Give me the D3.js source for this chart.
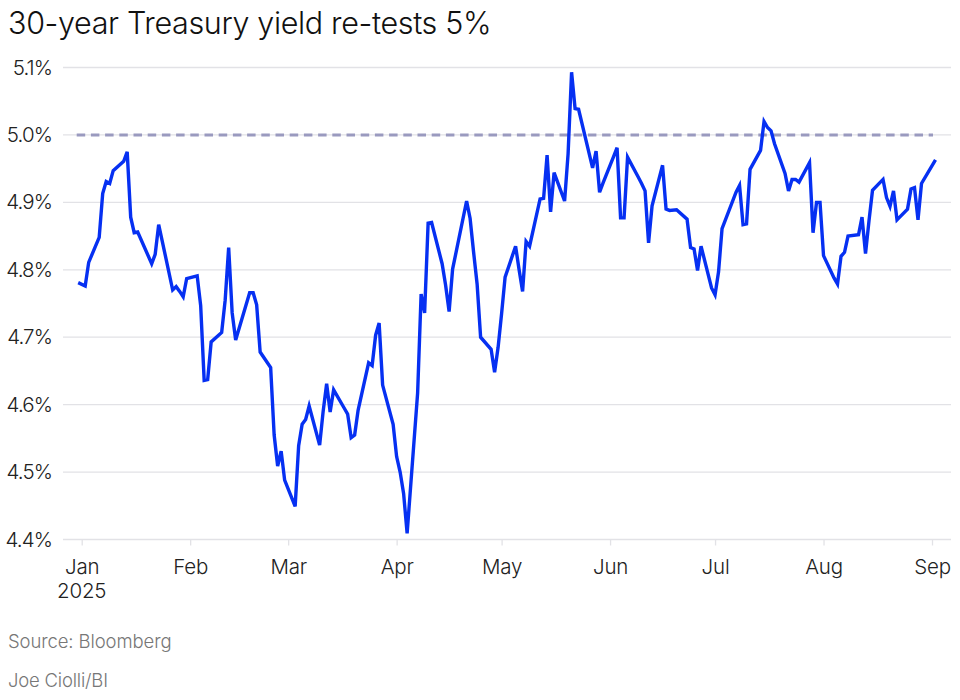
<!DOCTYPE html>
<html>
<head>
<meta charset="utf-8">
<script src="https://cdn.jsdelivr.net/npm/d3@7"></script>
<style>
  html, body { margin: 0; padding: 0; background: #fff; }
  text { font-family: Inter, "Noto Sans", sans-serif; font-weight: 300; }
</style>
</head>
<body>
<div id="chart"></div>
<script>
// Values
var dates = [
  "2024-12-31","2025-01-02","2025-01-03","2025-01-06","2025-01-07","2025-01-08","2025-01-09","2025-01-10",
  "2025-01-13","2025-01-14","2025-01-15","2025-01-16","2025-01-17","2025-01-21","2025-01-22","2025-01-23","2025-01-24",
  "2025-01-27","2025-01-28","2025-01-29","2025-01-30","2025-01-31",
  "2025-02-03","2025-02-04","2025-02-05","2025-02-06","2025-02-07",
  "2025-02-10","2025-02-11","2025-02-12","2025-02-13","2025-02-14",
  "2025-02-18","2025-02-19","2025-02-20","2025-02-21",
  "2025-02-24","2025-02-25","2025-02-26","2025-02-27","2025-02-28",
  "2025-03-03","2025-03-04","2025-03-05","2025-03-06","2025-03-07",
  "2025-03-10","2025-03-11","2025-03-12","2025-03-13","2025-03-14",
  "2025-03-17","2025-03-18","2025-03-19","2025-03-20","2025-03-21",
  "2025-03-24","2025-03-25","2025-03-26","2025-03-27","2025-03-28",
  "2025-03-31","2025-04-01","2025-04-02","2025-04-03","2025-04-04",
  "2025-04-07","2025-04-08","2025-04-09","2025-04-10","2025-04-11",
  "2025-04-14","2025-04-15","2025-04-16","2025-04-17",
  "2025-04-21","2025-04-22","2025-04-23","2025-04-24","2025-04-25",
  "2025-04-28","2025-04-29","2025-04-30","2025-05-01","2025-05-02",
  "2025-05-05","2025-05-06","2025-05-07","2025-05-08","2025-05-09",
  "2025-05-12","2025-05-13","2025-05-14","2025-05-15","2025-05-16",
  "2025-05-19","2025-05-20","2025-05-21","2025-05-22","2025-05-23",
  "2025-05-27","2025-05-28","2025-05-29","2025-05-30",
  "2025-06-02","2025-06-03","2025-06-04","2025-06-05","2025-06-06",
  "2025-06-09","2025-06-10","2025-06-11","2025-06-12","2025-06-13",
  "2025-06-16","2025-06-17","2025-06-18","2025-06-20",
  "2025-06-23","2025-06-24","2025-06-25","2025-06-26","2025-06-27",
  "2025-06-30","2025-07-01","2025-07-02","2025-07-03",
  "2025-07-07","2025-07-08","2025-07-09","2025-07-10","2025-07-11",
  "2025-07-14","2025-07-15","2025-07-16","2025-07-17","2025-07-18",
  "2025-07-21","2025-07-22","2025-07-23","2025-07-24","2025-07-25",
  "2025-07-28","2025-07-29","2025-07-30","2025-07-31","2025-08-01",
  "2025-08-04","2025-08-05","2025-08-06","2025-08-07","2025-08-08",
  "2025-08-11","2025-08-12","2025-08-13","2025-08-14","2025-08-15",
  "2025-08-18","2025-08-19","2025-08-20","2025-08-21","2025-08-22",
  "2025-08-25","2025-08-26","2025-08-27","2025-08-28","2025-08-29",
  "2025-09-02"
];

var yields = [
  4.781,4.776,4.811,4.848,4.913,4.931,4.928,4.947,
  4.961,4.975,4.878,4.855,4.856,4.809,4.823,4.867,4.843,
  4.770,4.775,4.768,4.760,4.787,
  4.791,4.747,4.636,4.637,4.693,
  4.707,4.755,4.833,4.736,4.696,
  4.766,4.766,4.748,4.678,
  4.655,4.555,4.509,4.531,4.488,
  4.449,4.539,4.571,4.578,4.598,
  4.540,4.590,4.631,4.589,4.622,
  4.595,4.586,4.551,4.555,4.592,
  4.662,4.658,4.703,4.721,4.629,
  4.571,4.523,4.500,4.468,4.409,
  4.617,4.764,4.736,4.869,4.870,
  4.809,4.777,4.738,4.801,
  4.902,4.876,4.826,4.779,4.700,
  4.682,4.648,4.685,4.735,4.789,
  4.835,4.800,4.768,4.842,4.835,
  4.905,4.906,4.970,4.886,4.944,
  4.902,4.972,5.093,5.039,5.038,
  4.951,4.976,4.915,4.929,
  4.968,4.981,4.877,4.877,4.967,
  4.938,4.928,4.917,4.840,4.895,
  4.955,4.890,4.888,4.889,
  4.875,4.833,4.831,4.799,4.835,
  4.773,4.763,4.797,4.861,
  4.915,4.925,4.867,4.868,4.949,
  4.977,5.020,5.011,5.006,4.987,
  4.943,4.917,4.934,4.934,4.930,
  4.959,4.855,4.900,4.900,4.821,
  4.788,4.779,4.820,4.826,4.850,
  4.852,4.878,4.824,4.873,4.918,
  4.934,4.907,4.894,4.917,4.874,
  4.890,4.920,4.922,4.874,4.928,
  4.963
];

var yTicks = [4.4, 4.5, 4.6, 4.7, 4.8, 4.9, 5.0, 5.1];
var xTicks = ["2025-01-01","2025-02-01","2025-03-01","2025-04-01","2025-05-01","2025-06-01","2025-07-01","2025-08-01","2025-09-01"];
var monthLabels = ["Jan","Feb","Mar","Apr","May","Jun","Jul","Aug","Sep"];
var referenceLevel = [5.0];

var svgWidth = 960;
var svgHeight = 700;

var parseDate = d3.utcParse("%Y-%m-%d");

var svg = d3.select("#chart")
  .append("svg")
  .attr("width", svgWidth)
  .attr("height", svgHeight)
  .style("display", "block");

var gridLeft = 63, gridRight = 951;

var xScale = d3.scaleUtc()
  .domain([parseDate(xTicks[0]), parseDate(xTicks[xTicks.length - 1])])
  .range([81.7, 932]);

var yScale = d3.scaleLinear()
  .domain([4.4, 5.1])
  .range([539.5, 67.5]);

// Title
svg.append("text")
  .attr("x", 8)
  .attr("y", 34)
  .attr("font-size", 30.5)
  .attr("letter-spacing", -0.35)
  .attr("fill", "#111")
  .text("30-year Treasury yield re-tests 5%");

// Y axis and gridlines
var yAxis = d3.axisLeft(yScale)
  .tickValues(yTicks)
  .tickFormat(d => d.toFixed(1) + "%")
  .tickSize(0)
  .tickPadding(11);

svg.append("g")
  .attr("transform", `translate(${gridLeft}, 0)`)
  .call(yAxis)
  .call(g => g.select(".domain").remove())
  .call(g => g.selectAll("text")
    .attr("font-size", 20.5)
    .attr("letter-spacing", -0.9)
    .attr("fill", "#222")
    .style("font-family", "Inter, sans-serif"));

svg.append("g")
  .selectAll("line")
  .data(yTicks)
  .enter()
  .append("line")
  .attr("x1", gridLeft)
  .attr("x2", gridRight)
  .attr("y1", d => yScale(d))
  .attr("y2", d => yScale(d))
  .attr("stroke", "#e2e2e6")
  .attr("stroke-width", 1.3);

// X axis
var xAxis = d3.axisBottom(xScale)
  .tickValues(xTicks.map(parseDate))
  .tickFormat((d, i) => monthLabels[i])
  .tickSize(6)
  .tickPadding(14);

svg.append("g")
  .attr("transform", `translate(0, ${yScale(4.4)})`)
  .call(xAxis)
  .call(g => g.select(".domain").remove())
  .call(g => g.selectAll("line").attr("stroke", "#e2e2e6").attr("stroke-width", 1.3))
  .call(g => g.selectAll("text")
    .attr("font-size", 20.5)
    .attr("letter-spacing", -0.2)
    .attr("fill", "#222")
    .style("font-family", "Inter, sans-serif"));

svg.append("text")
  .attr("x", xScale(parseDate(xTicks[0])))
  .attr("y", 598)
  .attr("text-anchor", "middle")
  .attr("font-size", 20.5)
  .attr("letter-spacing", -0.2)
  .attr("fill", "#222")
  .text("2025");

// Dashed 5% line
svg.append("g")
  .selectAll("line")
  .data(referenceLevel)
  .enter()
  .append("line")
  .attr("x1", xScale(parseDate(dates[0])) - 1.5)
  .attr("x2", xScale(parseDate(xTicks[xTicks.length - 1])) + 1)
  .attr("y1", d => yScale(d))
  .attr("y2", d => yScale(d))
  .attr("stroke", "#9a9abf")
  .attr("stroke-width", 3)
  .attr("stroke-dasharray", "8.5 5.7");

// Yield line
var line = d3.line()
  .x((d, i) => xScale(parseDate(dates[i])))
  .y(d => yScale(d));

svg.append("path")
  .datum(yields)
  .attr("d", line)
  .attr("fill", "none")
  .attr("stroke", "#0630f2")
  .attr("stroke-width", 3.4)
  .attr("stroke-linejoin", "miter")
  .attr("stroke-miterlimit", 4);

// Footer
svg.append("text")
  .attr("x", 8)
  .attr("y", 648)
  .attr("font-size", 18.5)
  .attr("letter-spacing", -0.1)
  .attr("fill", "#777")
  .text("Source: Bloomberg");

svg.append("text")
  .attr("x", 8)
  .attr("y", 687)
  .attr("font-size", 18.5)
  .attr("letter-spacing", -0.2)
  .attr("fill", "#777")
  .text("Joe Ciolli/BI");
</script>
</body>
</html>
